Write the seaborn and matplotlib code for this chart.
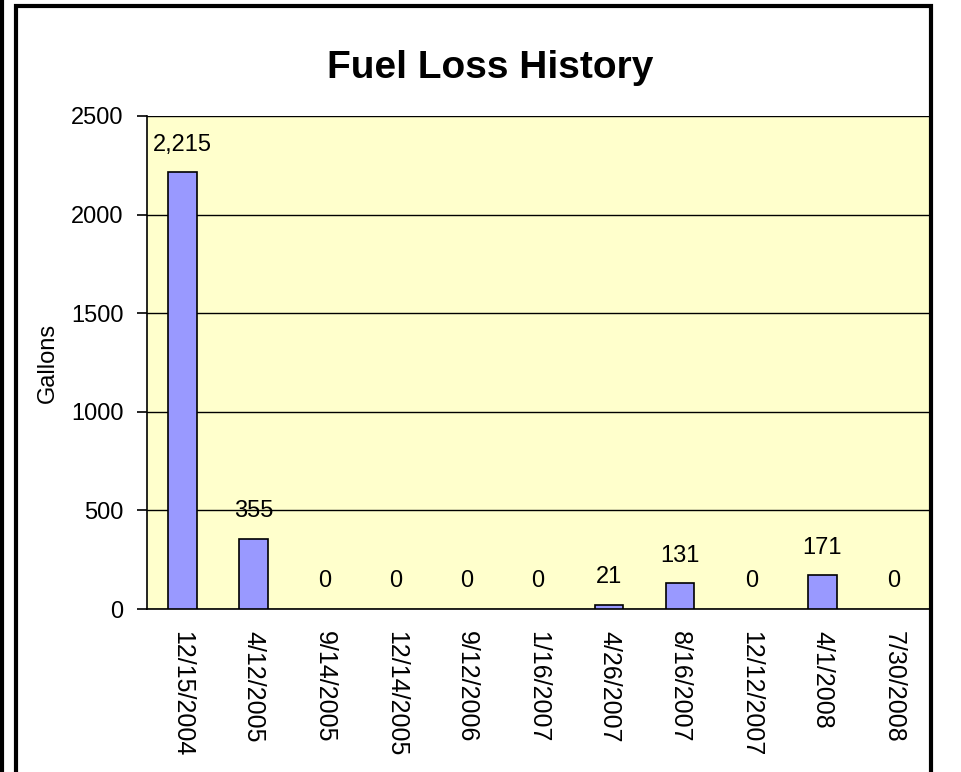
import pandas as pd
import matplotlib
matplotlib.use('Agg')
import matplotlib.pyplot as plt
from matplotlib.patches import Rectangle
from matplotlib.lines import Line2D
import seaborn as sns

# Chart data
dates = ['12/15/2004', '4/12/2005', '9/14/2005', '12/14/2005', '9/12/2006',
         '1/16/2007', '4/26/2007', '8/16/2007', '12/12/2007', '4/1/2008', '7/30/2008']
gallons = [2215, 355, 0, 0, 0, 0, 21, 131, 0, 171, 0]
y_ticks = [0, 500, 1000, 1500, 2000, 2500]

df = pd.DataFrame({'date': dates, 'gallons': gallons})

sns.set_theme(style='white')
plt.rcParams['font.family'] = ['Liberation Sans', 'DejaVu Sans']
plt.rcParams['text.color'] = 'black'
plt.rcParams['xtick.color'] = 'black'
plt.rcParams['ytick.color'] = 'black'
plt.rcParams['axes.labelcolor'] = 'black'

fig = plt.figure(figsize=(9.61, 7.72), dpi=100)
ax = fig.add_axes([147 / 961, 1 - 609 / 772, (929 - 147) / 961, (609 - 116) / 772])
ax.set_facecolor('#FFFFCC')

sns.barplot(data=df, x='date', y='gallons', order=dates, color='#9999FF',
            saturation=1, width=0.4, edgecolor='black', linewidth=1.2, ax=ax, zorder=3)

# no outline for empty bars
for bar, v in zip(ax.patches, gallons):
    if v == 0:
        bar.set_linewidth(0)

ax.bar_label(ax.containers[0], labels=[f'{v:,}' for v in gallons],
             padding=12, fontsize=17, zorder=4)

ax.set_ylim(0, 2500)
ax.set_yticks(y_ticks)
ax.set_xlim(-0.5, len(dates) - 0.5)
ax.yaxis.grid(True, color='black', linewidth=1, zorder=1)
ax.set_axisbelow(True)

ax.set_xticks(range(len(dates)))
ax.set_xticklabels(dates, rotation=270, fontsize=18)
ax.set_xticks([i - 0.5 for i in range(len(dates) + 1)], minor=True)
ax.tick_params(axis='x', which='major', length=0, pad=16)
ax.tick_params(axis='x', which='minor', length=7, width=1.2, color='black', direction='out')
ax.tick_params(axis='y', length=7, width=1.2, color='black', direction='out',
               labelsize=17, left=True, pad=10)

for s in ['top', 'right']:
    ax.spines[s].set_visible(False)
for s in ['left', 'bottom']:
    ax.spines[s].set_color('black')
    ax.spines[s].set_linewidth(1.2)

ax.set_xlabel('')
ax.set_ylabel('Gallons', fontsize=17, labelpad=9)
fig.text(490 / 961, 1 - 68 / 772, 'Fuel Loss History', ha='center', va='center',
         fontsize=28, fontweight='bold')

# outer chart frame
fig.patches.append(Rectangle((16 / 961, -0.05), (931 - 16) / 961, 1.05 - 6 / 772,
                             transform=fig.transFigure, fill=False, edgecolor='black',
                             linewidth=3, zorder=10))
fig.lines.append(Line2D([2 / 961, 2 / 961], [0, 1], transform=fig.transFigure,
                        color='black', linewidth=3))

fig.savefig('out.png', dpi=100)
